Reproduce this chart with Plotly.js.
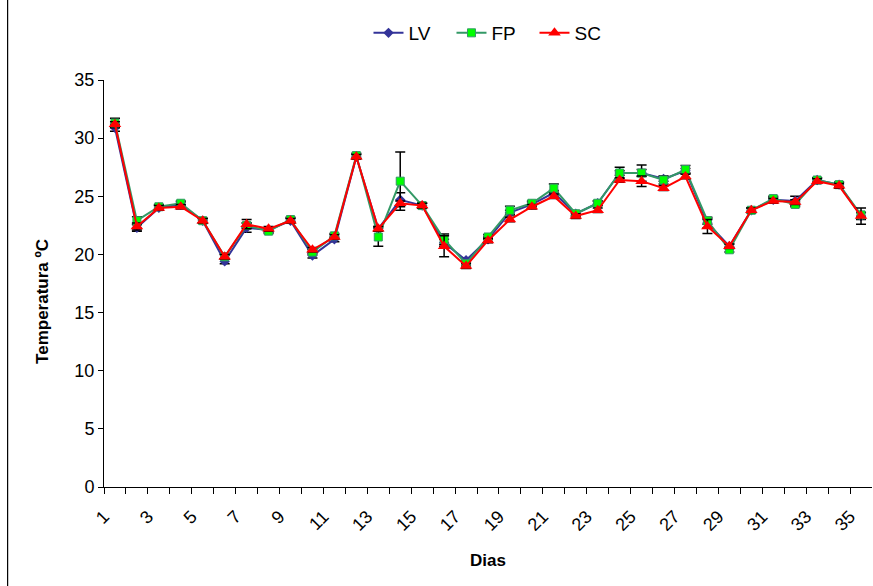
<!DOCTYPE html>
<html>
<head>
<meta charset="utf-8">
<script src="https://cdn.plot.ly/plotly-3.0.1.min.js"></script>
<style>
  html, body { margin: 0; padding: 0; background: #fff; }
  #chart { width: 873px; height: 586px; }
</style>
</head>
<body>
<div id="chart"></div>
<script>
// Daily temperatures (ºC) for the three treatments
const days = [1,2,3,4,5,6,7,8,9,10,11,12,13,14,15,16,17,18,19,20,21,22,23,24,25,26,27,28,29,30,31,32,33,34,35];

const lv = [30.9,22.3,24.0,24.3,22.9,19.4,22.3,22.1,22.9,19.9,21.3,28.4,22.2,24.7,24.2,21.0,19.5,21.3,23.6,24.3,25.3,23.5,24.4,27.0,27.0,26.5,27.2,22.7,20.7,23.8,24.7,24.6,26.4,26.0,23.3];
const fp = [31.3,22.9,24.1,24.4,22.9,19.8,22.5,22.0,23.0,20.2,21.6,28.5,21.5,26.3,24.2,21.3,19.2,21.5,23.8,24.4,25.7,23.5,24.4,27.0,27.0,26.4,27.3,22.9,20.4,23.8,24.8,24.3,26.4,26.0,23.4];
const sc = [31.2,22.4,24.0,24.1,22.9,19.8,22.6,22.2,22.9,20.4,21.5,28.4,22.2,24.4,24.2,20.7,19.0,21.2,23.0,24.1,25.0,23.3,23.8,26.4,26.3,25.7,26.7,22.4,20.7,23.8,24.6,24.5,26.3,25.9,23.3];

// Standard deviations
const lvErr = [0.3,0.3,0.2,0.2,0.2,0.2,0.4,0.2,0.2,0.2,0.2,0.2,0.2,0.6,0.2,0.3,0.2,0.2,0.2,0.2,0.2,0.2,0.2,0.2,0.3,0.2,0.2,0.4,0.2,0.2,0.2,0.4,0.2,0.2,0.3];
const fpErr = [0.4,0.35,0.2,0.2,0.2,0.2,0.2,0.2,0.2,0.2,0.2,0.2,0.8,2.5,0.2,0.45,0.2,0.2,0.35,0.2,0.35,0.2,0.2,0.5,0.7,0.35,0.35,0.3,0.2,0.2,0.2,0.2,0.2,0.2,0.2];
const scErr = [0.2,0.3,0.2,0.2,0.2,0.2,0.4,0.2,0.2,0.2,0.2,0.2,0.2,0.2,0.2,0.9,0.2,0.2,0.2,0.2,0.2,0.2,0.2,0.2,0.45,0.2,0.2,0.6,0.2,0.2,0.2,0.2,0.2,0.2,0.7];

const seriesNames = ["LV", "FP", "SC"];
const yTicks = [0, 5, 10, 15, 20, 25, 30, 35];

// Category labels sit on the left boundary of each day; only odd days are labelled
const tickPos = days.map(d => d - 0.5);
const tickText = days.map(d => (d % 2 === 1 ? String(d) : ""));

function errBar(arr) {
  return { type: "data", array: arr, visible: true, color: "#000000", thickness: 1.5, width: 5 };
}

const traces = [
  {
    x: days, y: lv, name: seriesNames[0], type: "scatter", mode: "lines+markers",
    line: { color: "#333399", width: 2 },
    marker: { symbol: "diamond", size: 8, color: "#333399" },
    error_y: errBar(lvErr)
  },
  {
    x: days, y: fp, name: seriesNames[1], type: "scatter", mode: "lines+markers",
    line: { color: "#339966", width: 2 },
    marker: { symbol: "square", size: 8, color: "#00FF00", line: { color: "#339966", width: 1 } },
    error_y: errBar(fpErr)
  },
  {
    x: days, y: sc, name: seriesNames[2], type: "scatter", mode: "lines+markers",
    line: { color: "#FF0000", width: 2 },
    marker: { symbol: "triangle-up", size: 11, color: "#FF0000" },
    error_y: errBar(scErr)
  }
];

const layout = {
  width: 873, height: 586,
  margin: { l: 104, r: 1, t: 80, b: 99, pad: 0 },
  paper_bgcolor: "#ffffff", plot_bgcolor: "#ffffff",
  font: { family: "Liberation Sans, Arial, sans-serif", size: 18, color: "#000000" },
  showlegend: true,
  legend: {
    orientation: "h", x: 0.5065, xanchor: "center", y: 1.1155, yanchor: "middle",
    font: { size: 19 }, bgcolor: "rgba(0,0,0,0)", itemwidth: 30, tracegroupgap: 0,
    entrywidth: 38, entrywidthmode: "pixels"
  },
  xaxis: {
    range: [0.5, 35.5], tickmode: "array", tickvals: tickPos, ticktext: tickText,
    tickangle: -45, ticks: "outside", ticklen: 6, tickcolor: "#000", tickwidth: 1,
    ticklabelstandoff: 5,
    showline: true, linecolor: "#000", linewidth: 1, showgrid: false, zeroline: false,
    tickfont: { size: 18 },
    title: { text: "<b>Dias</b>", font: { size: 17 }, standoff: 20 }
  },
  yaxis: {
    range: [0, 35], tickmode: "array", tickvals: yTicks,
    ticks: "outside", ticklen: 5, tickcolor: "#000", tickwidth: 1,
    showline: true, linecolor: "#000", linewidth: 1, showgrid: false, zeroline: false,
    tickfont: { size: 18 }
  },
  annotations: [
    {
      text: "<b>Temperatura ºC</b>", xref: "paper", yref: "paper",
      x: -0.0793, y: 0.455, xanchor: "center", yanchor: "middle",
      textangle: -90, showarrow: false, font: { size: 17 }
    }
  ],
  shapes: [
    { type: "line", xref: "paper", yref: "paper", x0: -0.1255, x1: -0.1255, y0: -0.25, y1: 1.2, line: { color: "#000", width: 1.2 } }
  ]
};

Plotly.newPlot("chart", traces, layout, { displayModeBar: false, staticPlot: true });
</script>
</body>
</html>
